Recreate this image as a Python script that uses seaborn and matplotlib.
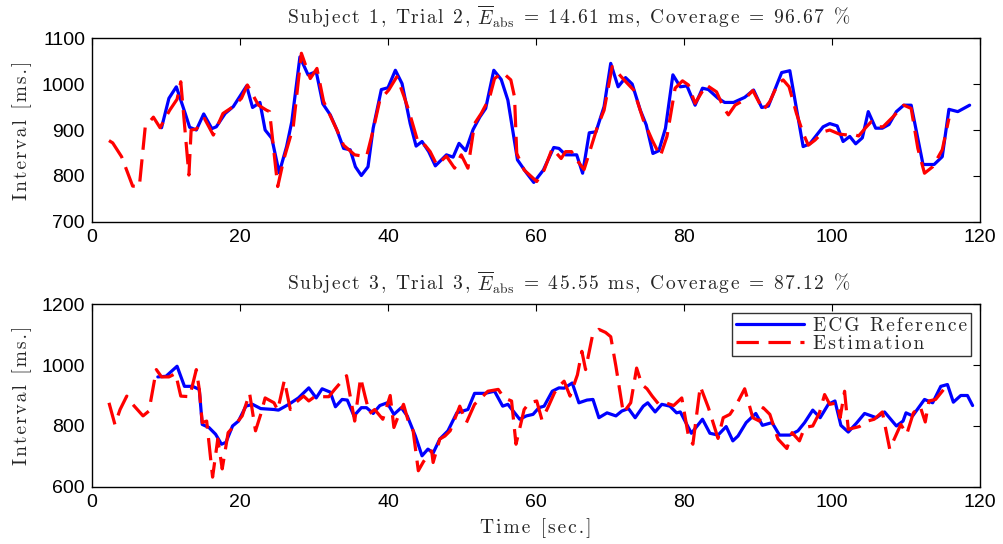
import matplotlib
matplotlib.use("Agg")
import matplotlib.pyplot as plt
import seaborn as sns
import pandas as pd
import numpy as np

# ---------------- data ----------------
# Panel 1 (Subject 1, Trial 2)
t1_ref = [9.4, 10.4, 11.4, 12.6, 13.2, 14.1, 15.1, 16.2, 16.8, 18.0, 19.1, 20.9, 21.7, 22.7, 23.4, 24.3,
          25.3, 26.3, 27.0, 28.1, 29.2, 30.3, 31.2, 32.2, 33.1, 34.0, 34.9, 35.6, 36.4, 37.3, 38.0, 39.1,
          40.0, 41.0, 41.9, 43.0, 43.8, 44.6, 45.5, 46.4, 47.9, 48.8, 49.6, 50.5, 51.5, 52.4, 53.2, 54.3,
          55.3, 56.2, 57.5, 58.7, 59.7, 61.0, 62.4, 63.1, 64.0, 65.5, 66.3, 67.2, 68.1, 69.2, 70.1, 71.1,
          72.1, 73.0, 74.1, 74.9, 75.8, 76.6, 77.5, 78.5, 79.5, 80.4, 81.5, 82.5, 83.3, 84.6, 85.5, 86.7,
          88.2, 89.4, 90.5, 91.4, 93.2, 94.3, 96.1, 97.0, 98.8, 99.7, 100.7, 101.5, 102.4, 103.2, 104.1,
          104.9, 105.9, 106.8, 107.7, 108.7, 109.7, 110.7, 112.3, 113.8, 114.9, 115.8, 117.0, 118.6]
v1_ref = [905, 969, 994, 936, 906, 900, 935, 903, 907, 936, 951, 996, 949, 960, 900, 882,
          807, 864, 918, 1059, 1020, 1027, 957, 933, 900, 860, 857, 820, 801, 820, 904, 988,
          992, 1030, 1001, 914, 865, 875, 853, 822, 846, 841, 871, 855, 901, 928, 947, 1030,
          1010, 965, 835, 807, 786, 813, 862, 860, 846, 846, 806, 894, 896, 951, 1045, 994,
          1014, 1000, 943, 911, 849, 855, 904, 1020, 994, 996, 954, 991, 988, 969, 960, 960,
          971, 987, 949, 952, 1025, 1029, 864, 870, 907, 914, 909, 875, 886, 870, 883,
          940, 904, 904, 912, 940, 954, 954, 825, 825, 842, 945, 940, 954]

t1_est = [2.3, 2.8, 4.0, 5.5, 6.4, 7.2, 8.3, 9.2, 10.5, 11.5, 12.0, 13.1, 13.4, 14.1, 15.2, 16.4,
          17.7, 19.1, 20.2, 21.0, 22.5, 23.6, 24.0, 25.1, 25.9, 27.2, 28.3, 29.5, 30.4, 31.3, 33.1,
          34.0, 35.5, 37.1, 38.0, 38.9, 40.1, 41.2, 42.1, 42.8, 44.1, 45.0, 45.7, 46.6, 47.9, 49.0,
          49.9, 50.8, 51.7, 52.6, 53.7, 54.4, 55.5, 56.6, 57.1, 57.4, 58.4, 60.1, 61.1, 62.2, 63.4,
          64.0, 64.8, 65.5, 66.5, 68.3, 69.2, 70.3, 71.9, 73.2, 74.5, 75.7, 76.8, 77.7, 78.8, 79.8,
          80.6, 81.5, 83.0, 84.4, 85.4, 86.0, 86.9, 88.0, 89.3, 90.7, 91.6, 92.7, 93.4, 94.2, 95.2,
          96.1, 96.8, 97.7, 98.8, 99.7, 101.0, 102.2, 102.8, 103.6, 104.6, 105.3, 106.2, 106.9,
          108.2, 109.7, 110.7, 111.6, 112.5, 113.6, 114.9, 115.8]
v1_est = [877, 872, 842, 778, 777, 907, 928, 905, 943, 967, 1005, 802, 900, 902, 925, 889,
          936, 951, 969, 998, 954, 943, 940, 777, 835, 907, 1067, 1012, 1034, 962, 900,
          867, 846, 842, 900, 965, 987, 1016, 976, 943, 871, 867, 853, 824, 843, 817,
          846, 817, 914, 936, 969, 1012, 1025, 1009, 972, 849, 813, 788, 813, 860, 838,
          853, 853, 835, 814, 907, 943, 1038, 1009, 987, 922, 878, 843, 886, 991, 1007,
          998, 958, 998, 983, 947, 933, 954, 964, 986, 943, 962, 1001, 1009, 994, 936,
          893, 867, 878, 896, 900, 891, 889, 891, 887, 906, 918, 907, 907,
          928, 954, 947, 860, 806, 820, 857, 925]

# Panel 2 (Subject 3, Trial 3)
t2_ref = [8.9, 10.0, 11.5, 12.5, 13.6, 14.5, 14.9, 15.8, 16.7, 17.5, 18.1, 19.0, 19.8, 20.8, 21.7,
          22.8, 24.6, 25.2, 26.6, 27.9, 29.3, 30.3, 31.1, 32.2, 32.9, 33.8, 34.5, 35.4, 36.4, 37.1,
          38.0, 38.9, 39.9, 40.8, 41.8, 42.6, 43.7, 44.6, 45.4, 46.1, 47.0, 48.1, 49.3, 50.8, 51.7,
          53.1, 54.4, 55.5, 56.2, 57.8, 58.7, 59.6, 60.4, 61.1, 62.2, 63.1, 63.8, 64.9, 65.8, 66.9,
          67.7, 68.5, 69.6, 70.8, 71.6, 72.5, 73.4, 74.5, 75.1, 76.1, 77.0, 78.1, 79.0, 79.5, 81.0,
          82.5, 83.5, 84.6, 85.7, 86.6, 87.3, 88.4, 89.7, 90.6, 91.9, 92.9, 94.3, 95.4, 96.3, 97.4,
          98.4, 99.5, 100.4, 101.2, 102.2, 103.3, 104.4, 106.0, 107.1, 108.7, 109.6, 110.0, 110.9,
          112.5, 113.6, 114.7, 115.6, 116.4, 117.4, 118.3, 119.0]
v2_ref = [961, 963, 996, 930, 930, 920, 805, 795, 773, 740, 746, 800, 816, 865, 871,
          857, 854, 852, 871, 892, 925, 892, 922, 911, 863, 887, 885, 833, 860, 860,
          841, 867, 876, 838, 860, 833, 767, 702, 724, 711, 757, 784, 843, 854, 907,
          907, 914, 865, 871, 822, 833, 838, 860, 865, 914, 925, 924, 941, 876, 885,
          887, 827, 843, 833, 849, 857, 827, 865, 876, 846, 871, 865, 843, 846, 776,
          822, 776, 770, 798, 751, 767, 811, 841, 802, 811, 770, 770, 784, 811, 852,
          827, 871, 882, 802, 780, 809, 841, 827, 846, 800, 816, 843, 833,
          887, 876, 930, 936, 878, 900, 900, 867]

t2_est = [2.3, 3.1, 3.8, 4.7, 5.5, 6.9, 7.7, 8.7, 9.4, 10.4, 11.3, 12.0, 13.2, 14.1, 14.5, 14.9,
          15.5, 16.3, 17.0, 17.6, 18.4, 19.4, 20.3, 21.3, 22.1, 22.8, 23.4, 24.6, 25.1, 26.0, 26.8,
          27.5, 28.6, 29.3, 30.2, 31.1, 32.0, 32.8, 34.4, 35.5, 36.3, 36.9, 37.5, 38.2, 39.3, 40.3,
          40.8, 41.4, 42.1, 42.8, 43.4, 44.1, 44.8, 45.9, 46.1, 47.0, 47.7, 48.4, 49.7, 50.6, 51.7,
          52.6, 53.5, 54.9, 55.7, 56.7, 57.3, 58.4, 59.1, 60.1, 60.8, 61.6, 62.5, 63.1, 63.8, 64.6,
          65.6, 66.2, 66.7, 67.6, 68.5, 69.4, 70.1, 70.8, 71.8, 72.8, 73.6, 74.3, 75.0, 75.7, 76.6,
          77.5, 78.6, 79.7, 80.6, 81.2, 82.2, 83.3, 84.6, 85.3, 86.2, 87.1, 88.2, 89.3, 90.2, 90.7,
          91.6, 92.7, 93.9, 94.6, 95.6, 96.3, 97.4, 98.3, 99.0, 99.7, 100.7, 101.1, 101.7, 102.2,
          103.7, 104.8, 105.7, 106.8, 107.8, 108.6, 109.3, 110.1, 111.0, 111.9, 112.6, 113.1, 114.0,
          114.9, 115.7]
v2_est = [876, 805, 854, 898, 871, 833, 849, 985, 961, 961, 972, 898, 896, 985, 920, 811,
          816, 632, 757, 659, 778, 805, 833, 907, 784, 838, 892, 876, 852, 950, 854,
          876, 898, 882, 898, 896, 896, 920, 965, 816, 958, 898, 841, 854, 822, 900,
          795, 833, 871, 811, 784, 653, 683, 718, 680, 757, 767, 784, 865, 811, 871,
          892, 914, 920, 892, 882, 740, 854, 876, 882, 820, 860, 909, 930, 947, 898,
          968, 1045, 985, 1093, 1117, 1107, 1093, 996, 843, 876, 990, 936, 922, 898, 871,
          876, 867, 892, 767, 740, 930, 860, 759, 827, 838, 871, 922, 827, 816, 860,
          838, 757, 726, 778, 751, 795, 800, 843, 903, 871, 876, 827, 914, 789,
          798, 816, 822, 846, 724, 767, 805, 773, 843, 865, 813, 882, 887,
          914, 939]

title_parts = [("Subject 1, Trial 2, ", r"\overline{E}_{\mathrm{abs}}", " = 14.61 ms, Coverage = 96.67 %"),
               ("Subject 3, Trial 3, ", r"\overline{E}_{\mathrm{abs}}", " = 45.55 ms, Coverage = 87.12 %")]
series_names = ["ECG Reference", "Estimation"]
y_label = "Interval [ms.]"
x_label = "Time [sec.]"
x_ticks = [0, 20, 40, 60, 80, 100, 120]
y_ticks_1 = [700, 800, 900, 1000, 1100]
y_ticks_2 = [600, 800, 1000, 1200]

# ---------------- style ----------------
sns.set_theme(style="white")
plt.rcParams["mathtext.fontset"] = "cm"
plt.rcParams["font.family"] = ["Liberation Sans", "DejaVu Sans"]
plt.rcParams["axes.unicode_minus"] = False
SERIF = ["cmr10", "DejaVu Serif"]
HAIR = "\u200a"


def spaced(s):
    """Add a little letter spacing (LaTeX/MATLAB-like look)."""
    return HAIR.join(list(s))


def spaced_title(parts, em=0.09):
    a, m, b = parts
    gap = r"$\hspace{%g}$" % em
    return gap.join(list(a)) + "$" + m + "$" + gap + gap.join(list(b))


fig = plt.figure(figsize=(10.04, 5.44), dpi=100)
ax1 = fig.add_axes([0.0916, 0.592, 0.8845, 0.338])
ax2 = fig.add_axes([0.0916, 0.105, 0.8845, 0.336])

panels = [
    (ax1, t1_ref, v1_ref, t1_est, v1_est, title_parts[0], y_ticks_1, (700, 1100)),
    (ax2, t2_ref, v2_ref, t2_est, v2_est, title_parts[1], y_ticks_2, (600, 1200)),
]

for ax, tr, vr, te, ve, tparts, yt, ylim in panels:
    df_ref = pd.DataFrame({"t": tr, "v": vr})
    df_est = pd.DataFrame({"t": te, "v": ve})
    sns.lineplot(data=df_ref, x="t", y="v", ax=ax, color="#0000ff", lw=2.3,
                 estimator=None, label=spaced(series_names[0]))
    sns.lineplot(data=df_est, x="t", y="v", ax=ax, color="#ff0000", lw=2.3,
                 estimator=None, label=spaced(series_names[1]))
    ax.lines[-1].set_dashes([7, 3])
    ax.set_xlim(0, 120)
    ax.set_ylim(*ylim)
    ax.set_xticks(x_ticks)
    ax.set_yticks(yt)
    ax.tick_params(direction="in", length=5, width=0.8, top=True, right=True,
                   labelsize=14, colors="black", pad=5)
    for sp in ax.spines.values():
        sp.set_color("black")
        sp.set_linewidth(1.0)
    ax.set_title(spaced_title(tparts), fontsize=14, family=SERIF, pad=10, x=0.537)
    ax.set_ylabel(spaced(y_label), fontsize=14, family=SERIF, labelpad=7)
    ax.set_xlabel("")
    ax.grid(False)

ax2.set_xlabel(spaced(x_label), fontsize=14, family=SERIF, labelpad=5)
ax1.get_legend().remove()
leg = ax2.legend(loc="upper right", prop={"family": SERIF, "size": 14},
                 frameon=True, fancybox=False, edgecolor="black", handlelength=3.5,
                 borderpad=0.2, labelspacing=0.0, borderaxespad=0.45, handletextpad=0.5)
leg.get_frame().set_linewidth(1.0)
for h in leg.get_lines():
    h.set_linewidth(2.3)

fig.savefig("out.png", dpi=100, facecolor="white")
